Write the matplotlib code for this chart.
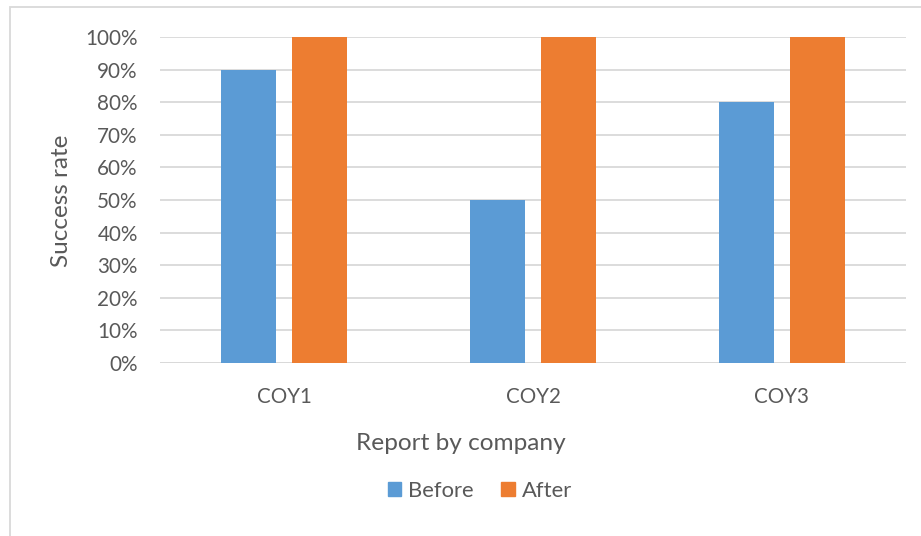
import matplotlib
matplotlib.use("Agg")
import matplotlib.pyplot as plt
from matplotlib.patches import Rectangle, Patch
import numpy as np

categories = ["COY1", "COY2", "COY3"]
before = [0.90, 0.50, 0.80]
after = [1.00, 1.00, 1.00]
series_names = ["Before", "After"]
yticks = [0.0, 0.1, 0.2, 0.3, 0.4, 0.5, 0.6, 0.7, 0.8, 0.9, 1.0]

W, H = 921, 536
plt.rcParams['font.family'] = ['Lato', 'DejaVu Sans']
txt = '#595959'
grid = '#d9d9d9'
blue = '#5B9BD5'
orange = '#ED7D31'

fig = plt.figure(figsize=(W/100, H/100), dpi=100)
fig.patch.set_facecolor('white')
# outer chart border
fig.add_artist(Rectangle((10/W, -0.1), 1.2, (H-7)/H + 0.1, transform=fig.transFigure,
                         fill=False, edgecolor=grid, linewidth=1.3))

ax = fig.add_axes([160/W, (H-363)/H, (906-160)/W, (363-37)/H])
x = np.arange(len(categories))
bw = 0.221
off = 0.143
ax.bar(x - off, before, bw, color=blue, label=series_names[0], zorder=3)
ax.bar(x + off, after, bw, color=orange, label=series_names[1], zorder=3)

ax.set_xlim(-0.5, len(categories) - 0.5)
ax.set_ylim(0, 1.0)
ax.set_yticks(yticks)
ax.set_yticklabels([f"{int(round(v*100))}%" for v in yticks])
ax.set_xticks(x)
ax.set_xticklabels(categories)
for s in ax.spines.values():
    s.set_visible(False)
ax.yaxis.grid(True, color=grid, linewidth=1.3, zorder=0)
ax.axhline(0, color=grid, linewidth=1.3, zorder=2)
ax.tick_params(axis='y', length=0, pad=16, labelsize=14.9, labelcolor=txt)
ax.tick_params(axis='x', length=0, pad=17, labelsize=14.8, labelcolor=txt)

fig.text(62/W, 1 - 201/H, "Success rate", rotation=90, ha='center', va='center',
         fontsize=17.5, color=txt)
fig.text(461/W, 1 - 444/H, "Report by company", ha='center', va='center',
         fontsize=17.6, color=txt)

handles = [Patch(color=blue), Patch(color=orange)]
fig.legend(handles, series_names, loc='center', bbox_to_anchor=(480/W, 1 - 491/H),
           ncol=2, frameon=False, fontsize=15.8, labelcolor=txt,
           handlelength=0.6, handleheight=0.6, handletextpad=0.35, columnspacing=1.25)

fig.savefig("out.png", dpi=100)
